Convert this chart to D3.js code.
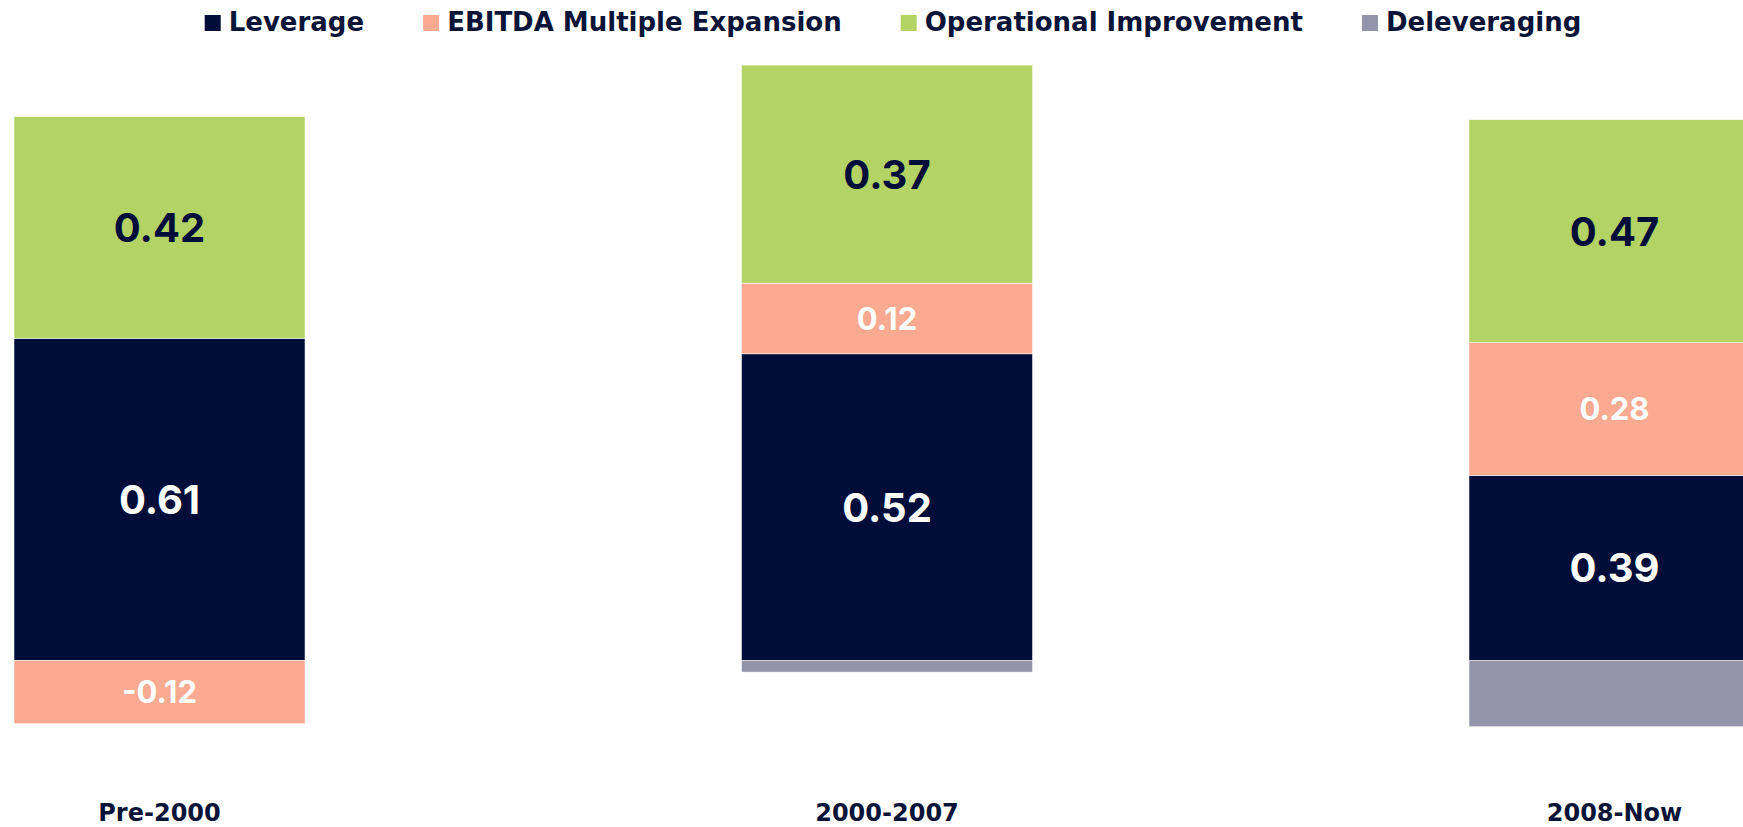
<!DOCTYPE html>
<html>
<head>
<meta charset="utf-8">
<script src="https://cdn.jsdelivr.net/npm/d3@7"></script>
<style>
  html, body { margin: 0; padding: 0; background: #ffffff; overflow: hidden; }
  svg { display: block; }
</style>
</head>
<body>
<svg id="chart" width="1743" height="827"></svg>
<script>
// Sources of value creation per era (share of total, raw contribution values)
const periods = ["Pre-2000", "2000-2007", "2008-Now"];
const seriesNames = ["Leverage", "EBITDA Multiple Expansion", "Operational Improvement", "Deleveraging"];
const leverage = [0.61, 0.52, 0.39];
const multipleExpansion = [-0.12, 0.12, 0.28];
const operationalImprovement = [0.42, 0.37, 0.47];
const deleveraging = [0, -0.02, -0.14];

const seriesValues = [leverage, multipleExpansion, operationalImprovement, deleveraging];
const seriesColors = ["#000d38", "#f9aa90", "#b3d465", "#9494aa"];
const labelColors  = ["#ffffff", "#ffffff", "#000d38", null];   // null = segment not labelled
const labelSizes   = [40, 31, 40, 0];

const width = 1743, height = 827;
const textColor = "#0a1438";
const svg = d3.select("#chart");

// Each bar is normalised by the sum of the absolute contributions (100% stacked, diverging)
const rows = periods.map((p, i) => {
  const total = d3.sum(seriesValues, s => Math.abs(s[i]));
  const r = { period: p };
  seriesNames.forEach((n, k) => { r[n] = seriesValues[k][i] / total; });
  return r;
});

const stacked = d3.stack()
  .keys(seriesNames)
  .offset(d3.stackOffsetDiverging)(rows);

const x = d3.scaleBand()
  .domain(periods)
  .range([14, 1760])
  .paddingInner(0.6)
  .paddingOuter(0);

const y = d3.scaleLinear()
  .domain([0, 1])
  .range([660.3, 53.3]);

// Bars
const layers = svg.append("g").attr("class", "bars")
  .selectAll("g")
  .data(stacked)
  .join("g")
  .attr("fill", (d, k) => seriesColors[k]);

layers.selectAll("rect")
  .data(d => d)
  .join("rect")
  .attr("x", d => x(d.data.period))
  .attr("width", x.bandwidth())
  .attr("y", d => y(Math.max(d[0], d[1])))
  .attr("height", d => Math.abs(y(d[0]) - y(d[1])))
  .attr("stroke", "#ffffff")
  .attr("stroke-width", 0.5);

// Value labels centred in each segment
const fmt = v => v.toFixed(2);
stacked.forEach((layer, k) => {
  if (!labelColors[k]) return;
  const fs = labelSizes[k];
  svg.append("g").attr("class", "labels-" + k)
    .selectAll("text")
    .data(layer
      .map((seg, i) => ({ seg, raw: seriesValues[k][i] }))
      .filter(d => d.raw !== 0))
    .join("text")
    .attr("x", d => x(d.seg.data.period) + x.bandwidth() / 2)
    .attr("y", d => (y(d.seg[0]) + y(d.seg[1])) / 2 + fs * 0.363)
    .attr("text-anchor", "middle")
    .attr("font-family", "Inter, 'Open Sans', sans-serif")
    .attr("font-weight", 700)
    .attr("font-size", fs)
    .attr("fill", labelColors[k])
    .text(d => fmt(d.raw));
});

// Category axis
const xAxis = svg.append("g")
  .attr("transform", "translate(0,821)")
  .call(d3.axisBottom(x).tickSize(0));
xAxis.select(".domain").remove();
xAxis.selectAll("text")
  .attr("y", 0)
  .attr("dy", 0)
  .attr("font-family", "'DejaVu Sans', sans-serif")
  .attr("font-weight", 700)
  .attr("font-size", 24)
  .attr("fill", textColor);

// Legend
const legend = svg.append("g").attr("class", "legend");
const swatch = 16, swatchGap = 8, itemGap = 59, legendCenter = 893;
const items = legend.selectAll("g")
  .data(seriesNames)
  .join("g");
items.append("rect")
  .attr("y", 15)
  .attr("width", swatch)
  .attr("height", swatch)
  .attr("fill", (d, k) => seriesColors[k]);
items.append("text")
  .attr("x", swatch + swatchGap)
  .attr("y", 31)
  .attr("font-family", "'DejaVu Sans', sans-serif")
  .attr("font-weight", 700)
  .attr("font-size", 26)
  .attr("fill", textColor)
  .text(d => d);

const widths = [];
items.each(function () {
  widths.push(swatch + swatchGap + d3.select(this).select("text").node().getComputedTextLength());
});
const totalW = d3.sum(widths) + itemGap * (widths.length - 1);
let cx = legendCenter - totalW / 2;
items.attr("transform", (d, i) => {
  const t = `translate(${cx},0)`;
  cx += widths[i] + itemGap;
  return t;
});
</script>
</body>
</html>
